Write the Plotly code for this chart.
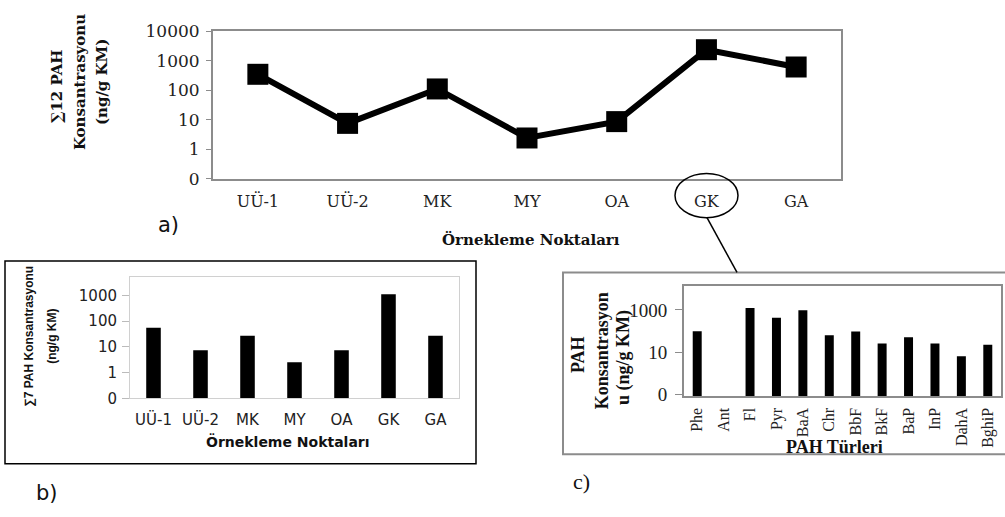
import plotly.graph_objects as go

# ---------------- data ----------------
sites = ["UÜ-1", "UÜ-2", "MK", "MY", "OA", "GK", "GA"]
sum12_pah = [345, 7.5, 110, 2.4, 8.6, 2350, 610]        # panel a (ng/g KM)
sum7_pah = [55, 7.3, 27, 2.5, 7.3, 1100, 27]            # panel b (ng/g KM)
pah_types = ["Phe", "Ant", "Fl", "Pyr", "BaA", "Chr", "BbF", "BkF", "BaP", "InP", "DahA", "BghiP"]
gk_pah = [100, 0, 1230, 430, 970, 64, 97, 26, 52, 26, 6.4, 22.4]  # panel c, GK

a_ticks = [0.1, 1, 10, 100, 1000, 10000]
a_ticktext = ["0", "1", "10", "100", "1000", "10000"]
b_ticks = [0.1, 1, 10, 100, 1000]
b_ticktext = ["0", "1", "10", "100", "1000"]
c_ticks = [0.1, 10, 1000]
c_ticktext = ["0", "10", "1000"]

W, H = 1005, 517
def X(px): return px / W
def Y(py): return 1 - py / H

SERIF_A = "DejaVu Serif"
SERIF_C = "Liberation Serif"
SANS = "DejaVu Sans"

fig = go.Figure()

fig.add_trace(go.Scatter(
    x=sites, y=sum12_pah, mode="lines+markers",
    line=dict(color="black", width=6),
    marker=dict(symbol="square", size=21, color="black"),
    xaxis="x", yaxis="y", showlegend=False, cliponaxis=False))

fig.add_trace(go.Bar(
    x=sites, y=sum7_pah, marker=dict(color="black", line=dict(width=0)),
    width=0.31, xaxis="x2", yaxis="y2", showlegend=False))

fig.add_trace(go.Bar(
    x=pah_types, y=gk_pah, marker=dict(color="black", line=dict(width=0)),
    width=0.34, xaxis="x3", yaxis="y3", showlegend=False))

frame_gray = "#8c8c8c"

fig.update_layout(
    width=W, height=H, autosize=False,
    margin=dict(l=0, r=0, t=0, b=0),
    paper_bgcolor="white", plot_bgcolor="white",
    # panel a
    xaxis=dict(domain=[X(213), X(841)], anchor="y", type="category", range=[-0.5, 6.5],
               showline=True, mirror=True, linecolor=frame_gray, linewidth=2,
               showgrid=False, ticks="", ticklabelstandoff=7,
               tickfont=dict(family=SERIF_A, size=16, color="#222")),
    yaxis=dict(domain=[Y(175.5), Y(22)], anchor="x", type="log", range=[-1, 4],
               tickvals=a_ticks, ticktext=a_ticktext,
               showline=True, mirror=True, linecolor=frame_gray, linewidth=2,
               showgrid=False, ticks="outside", ticklen=5, tickcolor=frame_gray,
               ticklabelstandoff=3,
               tickfont=dict(family=SERIF_A, size=17, color="#222")),
    # panel b
    xaxis2=dict(domain=[X(130), X(459)], anchor="y2", type="category", range=[-0.5, 6.5],
                showline=True, mirror=True, linecolor="#d0d0d0", linewidth=1,
                showgrid=False, ticks="", ticklabelstandoff=8,
                tickfont=dict(family=SANS, size=15, color="#222")),
    yaxis2=dict(domain=[Y(404), Y(278)], anchor="x2", type="log", range=[-1, 3.7],
                tickvals=b_ticks, ticktext=b_ticktext,
                showline=True, mirror=True, linecolor="#d0d0d0", linewidth=1,
                showgrid=False, ticks="outside", ticklen=7, tickcolor="#bbbbbb",
                ticklabelstandoff=2,
                tickfont=dict(family=SANS, size=15, color="#222")),
    # panel c
    xaxis3=dict(domain=[X(684), X(1001)], anchor="y3", type="category", range=[-0.5, 11.5],
                showline=True, mirror=True, linecolor=frame_gray, linewidth=2,
                showgrid=False, ticks="", tickangle=-90, ticklabelstandoff=3,
                tickfont=dict(family=SERIF_C, size=16, color="#222")),
    yaxis3=dict(domain=[Y(402), Y(287)], anchor="x3", type="log", range=[-1.09, 4.14],
                tickvals=c_ticks, ticktext=c_ticktext,
                showline=True, mirror=True, linecolor=frame_gray, linewidth=2,
                showgrid=False, ticks="outside", ticklen=7, tickcolor=frame_gray,
                ticklabelstandoff=4,
                tickfont=dict(family=SERIF_C, size=19, color="#222")),
)

shapes = [
    # panel b outer box
    dict(type="rect", xref="paper", yref="paper", x0=X(5), x1=X(476), y0=Y(472), y1=Y(261),
         line=dict(color="black", width=1.5), fillcolor="rgba(0,0,0,0)", layer="below"),
    # panel c outer box
    dict(type="rect", xref="paper", yref="paper", x0=X(563), x1=X(1012), y0=Y(462), y1=Y(273),
         line=dict(color=frame_gray, width=2), fillcolor="rgba(0,0,0,0)", layer="below"),
    # ellipse around GK
    dict(type="circle", xref="paper", yref="paper", x0=X(675), x1=X(738), y0=Y(216), y1=Y(170),
         line=dict(color="black", width=1.5)),
    # connector line
    dict(type="line", xref="paper", yref="paper", x0=X(707), y0=Y(216), x1=X(737), y1=Y(273),
         line=dict(color="black", width=1.5)),
]
fig.update_layout(shapes=shapes)

ann = []
def txt(x, y, s, family, size, bold=False, angle=0, color="#111"):
    ann.append(dict(x=X(x), y=Y(y), xref="paper", yref="paper", text=(f"<b>{s}</b>" if bold else s),
                    showarrow=False, textangle=angle, xanchor="center", yanchor="middle",
                    font=dict(family=family, size=size, color=color)))

# panel a titles
txt(57, 80, "∑12 PAH", SERIF_A, 15, True, -90)
txt(80, 75, "Konsantrasyonu", SERIF_A, 15, True, -90)
txt(102, 75, "(ng/g KM)", SERIF_A, 15, True, -90)
txt(531, 239, "Örnekleme Noktaları", SERIF_A, 15, True)
txt(168, 224, "a)", SANS, 21)
# panel b titles
txt(29, 340, "∑7 PAH Konsantrasyonu", "Liberation Sans", 12, True, -90)
txt(52, 340, "(ng/g KM)", "Liberation Sans", 12, True, -90)
txt(288, 449, "Örnekleme Noktaları", SANS, 14, True)
txt(47, 502, "b)", SANS, 21)
# panel c titles
txt(578, 359, "PAH", SERIF_C, 18, True, -90)
txt(602, 355, "Konsantrasyon", SERIF_C, 18, True, -90)
txt(624, 362, "u (ng/g KM)", SERIF_C, 18, True, -90)
txt(834, 455, "PAH Türleri", SERIF_C, 18, True)
txt(581, 490, "c)", SERIF_C, 22)

fig.update_layout(annotations=ann)

fig.write_html(
    "out.html",
    config={"displayModeBar": False, "staticPlot": True},
    post_script=("document.documentElement.style.margin='0';"
                 "document.documentElement.style.overflow='hidden';"
                 "document.body.style.margin='0';document.body.style.padding='0';"
                 "document.body.style.overflow='hidden';"),
)
